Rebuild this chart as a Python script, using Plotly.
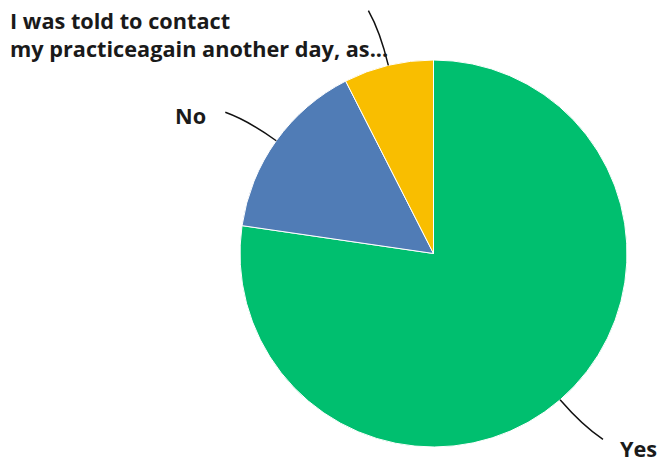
import math
import plotly.graph_objects as go

# Survey responses (percent of respondents)
labels = ["Yes", "No", "I was told to contact<br>my practiceagain another day, as..."]
values = [77.3, 15.2, 7.5]
colors = ["#00BF6F", "#507CB6", "#F9BE00"]

W, H = 658, 462
CX, CY, R = 433.5, 253.5, 193.5  # pie centre and radius in pixels


def to_paper(x, y):
    return x / W, 1 - y / H


def polar(angle_deg, radius):
    a = math.radians(angle_deg)
    return CX + radius * math.sin(a), CY - radius * math.cos(a)


fig = go.Figure(
    go.Pie(
        labels=labels,
        values=values,
        sort=False,
        direction="clockwise",
        rotation=0,
        marker=dict(colors=colors, line=dict(color="white", width=1)),
        textinfo="none",
        hoverinfo="label+percent",
        showlegend=False,
        domain=dict(
            x=[(CX - R) / W, (CX + R) / W],
            y=[1 - (CY + R) / H, 1 - (CY - R) / H],
        ),
    )
)

# Curved leader lines from each slice's mid angle
total = sum(values)
start = 0.0
shapes, annotations = [], []
font = dict(family="Open Sans", size=21.7, color="#1a1a1a")
for i, (lab, v) in enumerate(zip(labels, values)):
    mid = start + 360 * v / total / 2
    start += 360 * v / total
    p0 = polar(mid, R)
    p1 = polar(mid, R * 1.18)
    p2 = polar(mid - 1.5, R * 1.3)
    a0, a1, a2 = to_paper(*p0), to_paper(*p1), to_paper(*p2)
    shapes.append(dict(
        type="path", xref="paper", yref="paper",
        path=f"M {a0[0]},{a0[1]} Q {a1[0]},{a1[1]} {a2[0]},{a2[1]}",
        line=dict(color="#111111", width=1.5),
    ))
    if i == 0:
        lx, ly = to_paper(p2[0] + 15, p2[1] + 9)
        annotations.append(dict(x=lx, y=ly, xanchor="left", yanchor="middle",
                                text=f"<b>{lab}</b>"))
    elif i == 1:
        lx, ly = to_paper(p2[0] - 17, p2[1] + 3)
        annotations.append(dict(x=lx, y=ly, xanchor="right", yanchor="middle",
                                text=f"<b>{lab}</b>"))
    else:
        lx, ly = to_paper(8, 4)
        annotations.append(dict(x=lx, y=ly, xanchor="left", yanchor="top",
                                align="left", text=f"<b>{lab}</b>"))

for a in annotations:
    a.update(xref="paper", yref="paper", showarrow=False, font=font)

fig.update_layout(
    width=W,
    height=H,
    margin=dict(l=0, r=0, t=0, b=0),
    paper_bgcolor="white",
    plot_bgcolor="white",
    shapes=shapes,
    annotations=annotations,
)

fig.write_html("out.html")
